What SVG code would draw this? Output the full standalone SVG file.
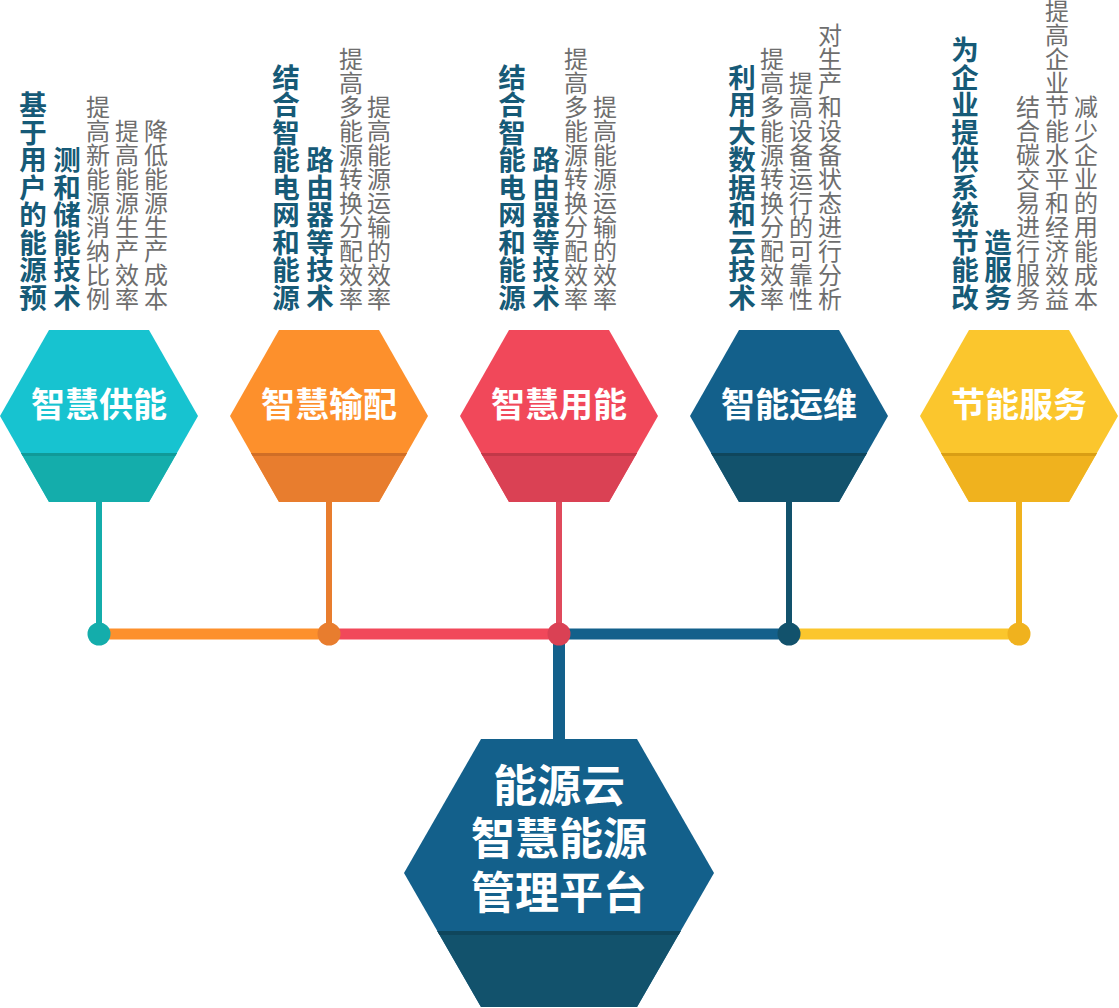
<svg xmlns="http://www.w3.org/2000/svg" width="1119" height="1008" viewBox="0 0 1119 1008">
<style>
.lbl{font-family:"Noto Sans CJK SC","Noto Sans",sans-serif;font-weight:bold;fill:#fff;text-anchor:middle}
.s{font-size:34px}
.b{font-size:44px}
.v{font-family:"Noto Sans CJK SC","Noto Sans",sans-serif;writing-mode:vertical-rl;text-anchor:end}
.d{font-size:27.5px;font-weight:bold;fill:#165a77}
.g{font-size:24px;fill:#6e6e6e}
.stem{stroke-width:6;fill:none}
</style>
<defs>
<polygon id="hexTop" points="-50,-86 50,-86 99,0 50,86 -50,86 -99,0"/>
<polygon id="hexBot" points="-78,37 78,37 50,86 -50,86 -78,37"/>
<polygon id="hexStr" points="-78,37 78,37 76.2,40 -76.2,40"/>
</defs>

<g id="connectors">
<line class="stem" x1="99" y1="500" x2="99" y2="634" stroke="#14adab"/>
<line class="stem" x1="329" y1="500" x2="329" y2="634" stroke="#e87d2e"/>
<line class="stem" x1="559" y1="500" x2="559" y2="634" stroke="#e04a5c"/>
<line class="stem" x1="789" y1="500" x2="789" y2="634" stroke="#12526c"/>
<line class="stem" x1="1019" y1="500" x2="1019" y2="634" stroke="#f0b21e"/>
<line x1="99" y1="634" x2="329" y2="634" stroke="#fd902c" stroke-width="11"/>
<line x1="329" y1="634" x2="559" y2="634" stroke="#f1485a" stroke-width="11"/>
<line x1="559" y1="634" x2="789" y2="634" stroke="#13608b" stroke-width="11"/>
<line x1="789" y1="634" x2="1019" y2="634" stroke="#fbc62d" stroke-width="11"/>
<line x1="559" y1="634" x2="559" y2="742" stroke="#13608b" stroke-width="12"/>
<circle cx="99" cy="634" r="11.5" fill="#14adab"/>
<circle cx="329" cy="634" r="11.5" fill="#e87d2e"/>
<circle cx="559" cy="634" r="11.5" fill="#da4154"/>
<circle cx="789" cy="634" r="11.5" fill="#12526c"/>
<circle cx="1019" cy="634" r="11.5" fill="#f0b21e"/>
</g>

<g id="node-supply">
<g transform="translate(99,416)">
<use href="#hexTop" fill="#17c3d0"/>
<use href="#hexBot" fill="#14adab"/>
<use href="#hexStr" fill="#109a98"/>
</g>
<text class="lbl s" x="99" y="417">智慧供能</text>
<text class="v d" x="33" y="311">基于用户的能源预</text>
<text class="v d" x="67" y="311">测和储能技术</text>
<text class="v g" x="98" y="311">提高新能源消纳比例</text>
<text class="v g" x="127" y="311">提高能源生产效率</text>
<text class="v g" x="156" y="311">降低能源生产成本</text>
</g>

<g id="node-distribution">
<g transform="translate(329,416)">
<use href="#hexTop" fill="#fd902c"/>
<use href="#hexBot" fill="#e87d2e"/>
<use href="#hexStr" fill="#d06e26"/>
</g>
<text class="lbl s" x="329" y="417">智慧输配</text>
<text class="v d" x="286" y="311">结合智能电网和能源</text>
<text class="v d" x="320" y="311">路由器等技术</text>
<text class="v g" x="351" y="311">提高多能源转换分配效率</text>
<text class="v g" x="379" y="311">提高能源运输的效率</text>
</g>

<g id="node-usage">
<g transform="translate(559,416)">
<use href="#hexTop" fill="#f1485a"/>
<use href="#hexBot" fill="#da4154"/>
<use href="#hexStr" fill="#c23848"/>
</g>
<text class="lbl s" x="559" y="417">智慧用能</text>
<text class="v d" x="512" y="311">结合智能电网和能源</text>
<text class="v d" x="546" y="311">路由器等技术</text>
<text class="v g" x="576" y="311">提高多能源转换分配效率</text>
<text class="v g" x="605" y="311">提高能源运输的效率</text>
</g>

<g id="node-operation">
<g transform="translate(789,416)">
<use href="#hexTop" fill="#13608b"/>
<use href="#hexBot" fill="#12526c"/>
<use href="#hexStr" fill="#0f465c"/>
</g>
<text class="lbl s" x="789" y="417">智能运维</text>
<text class="v d" x="742" y="311">利用大数据和云技术</text>
<text class="v g" x="772" y="311">提高多能源转换分配效率</text>
<text class="v g" x="801" y="311">提高设备运行的可靠性</text>
<text class="v g" x="830" y="311">对生产和设备状态进行分析</text>
</g>

<g id="node-service">
<g transform="translate(1019,416)">
<use href="#hexTop" fill="#fbc62d"/>
<use href="#hexBot" fill="#f0b21e"/>
<use href="#hexStr" fill="#d99e14"/>
</g>
<text class="lbl s" x="1019" y="417">节能服务</text>
<text class="v d" x="965" y="311">为企业提供系统节能改</text>
<text class="v d" x="998" y="311">造服务</text>
<text class="v g" x="1028" y="311">结合碳交易进行服务</text>
<text class="v g" x="1057" y="311">提高企业节能水平和经济效益</text>
<text class="v g" x="1086" y="311">减少企业的用能成本</text>
</g>

<g id="node-platform">
<polygon points="481,739 637,739 714,873 637,1007 481,1007 404,873" fill="#13608b"/>
<polygon points="437.3,931 680.7,931 637,1007 481,1007" fill="#12526c"/>
<polygon points="437.3,931 680.7,931 678.6,935 439.4,935" fill="#0f465c"/>
<text class="lbl b" x="559" y="802">能源云<tspan x="559" dy="53">智慧能源</tspan><tspan x="559" dy="54">管理平台</tspan></text>
</g>
</svg>
